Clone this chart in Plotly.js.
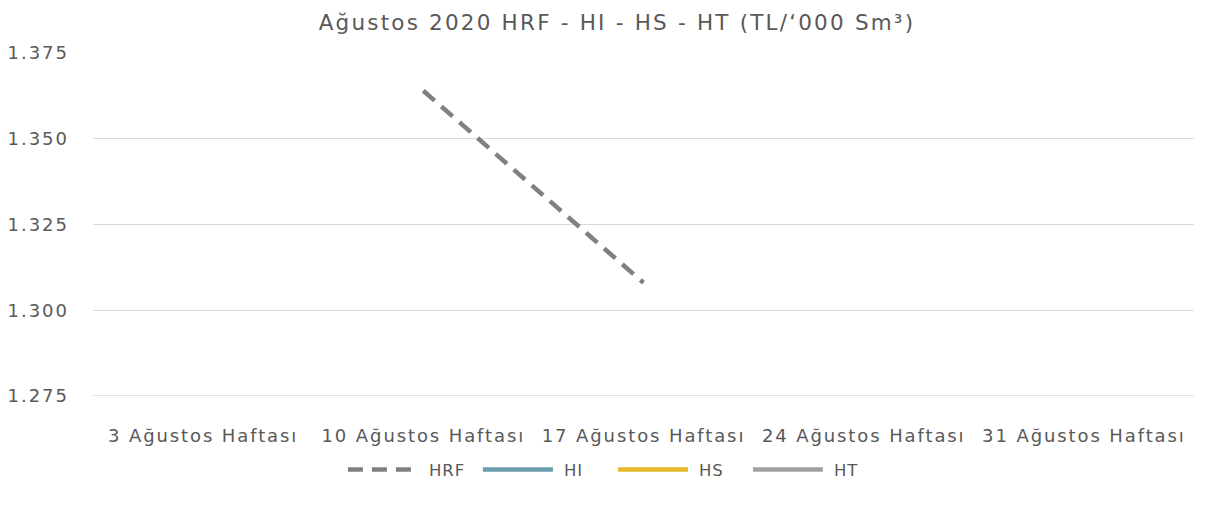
<!DOCTYPE html>
<html>
<head>
<meta charset="utf-8">
<script src="https://cdn.plot.ly/plotly-3.0.1.min.js"></script>
<style>
html,body{margin:0;padding:0;background:#fff;}
#chart{width:1206px;height:519px;}
#chart .gtitle{letter-spacing:2.2px;}
#chart .xtick text{letter-spacing:1.9px;}
#chart .ytick text{letter-spacing:2px;}
#chart .legendtext{letter-spacing:1px;transform:translate(6px,0px);}
</style>
</head>
<body>
<div id="chart"></div>
<script>
var categories = ["3 Ağustos Haftası", "10 Ağustos Haftası", "17 Ağustos Haftası", "24 Ağustos Haftası", "31 Ağustos Haftası"];
var hrf = [null, 1.364, 1.308, null, null];
var hi = [null, null, null, null, null];
var hs = [null, null, null, null, null];
var ht = [null, null, null, null, null];
var yTicks = [1.275, 1.300, 1.325, 1.350, 1.375];

var font = "'DejaVu Sans', sans-serif";
function tr(name, y, color, dash) {
  return {x: categories, y: y, name: name, type: "scatter", mode: "lines",
    line: {color: color, width: 4.5, dash: dash || "solid"}, connectgaps: false, showlegend: true};
}
var data = [
  tr("HRF", hrf, "#808080", "15px,9px"),
  tr("HI", hi, "#6a9dac"),
  tr("HS", hs, "#e6b82a"),
  tr("HT", ht, "#a0a0a0")
];
var layout = {
  width: 1206, height: 519,
  margin: {l: 93, r: 12, t: 53, b: 123},
  paper_bgcolor: "#fff", plot_bgcolor: "#fff",
  font: {family: font, color: "#595959", size: 16.5},
  title: {text: "Ağustos 2020 HRF - HI - HS - HT (TL/‘000 Sm³)", x: 0.5116, xanchor: "center", y: 0.957, yanchor: "middle", font: {size: 21.5, color: "#595959", family: font}},
  xaxis: {type: "category", range: [-0.5, 4.5], showgrid: false, showline: false, zeroline: false, ticks: "", tickfont: {size: 18}, ticklabelstandoff: 27},
  yaxis: {range: [1.275, 1.375], tickvals: yTicks, tickformat: ".3f", showgrid: true, gridcolor: "#d9d9d9", gridwidth: 1.3, zeroline: false, showline: false, ticks: "", tickfont: {size: 18}, ticklabelstandoff: 23},
  legend: {orientation: "h", x: 0.227, xanchor: "left", y: -0.215, yanchor: "middle", itemwidth: 70, entrywidth: 50, entrywidthmode: "pixels", font: {size: 16.5}},
  shapes: [{type: "line", xref: "paper", yref: "y", x0: 0, x1: 1, y0: 1.275, y1: 1.275, line: {color: "#d9d9d9", width: 1.3}}]
};
Plotly.newPlot("chart", data, layout, {displayModeBar: false, staticPlot: true});
</script>
</body>
</html>
